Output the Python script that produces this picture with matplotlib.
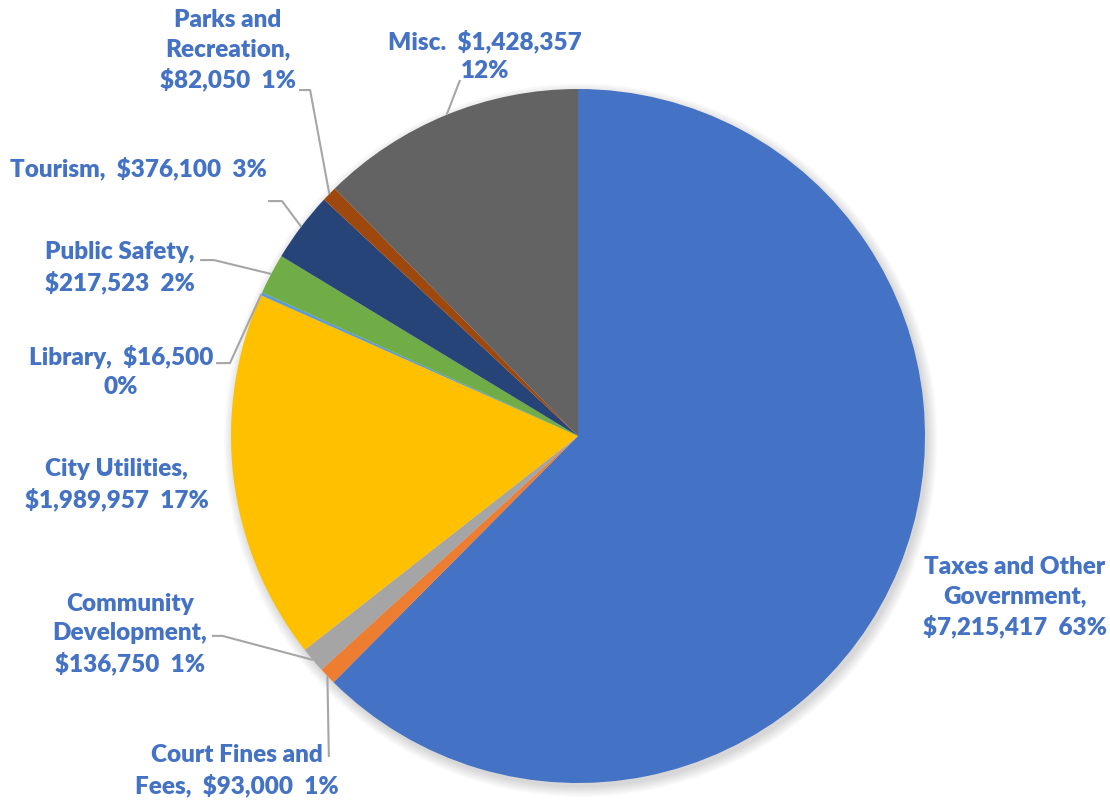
import numpy as np
import matplotlib.pyplot as plt
from matplotlib.patches import Circle

# Revenue by source, clockwise from 12 o'clock
sources = ['Taxes and Other\nGovernment,', 'Court Fines and\nFees,', 'Community\nDevelopment,',
           'City Utilities,', 'Library,', 'Public Safety,', 'Tourism,',
           'Parks and\nRecreation,', 'Misc.']
amounts = [7215417, 93000, 136750, 1989957, 16500, 217523, 376100, 82050, 1428357]
pct_text = ['63%', '1%', '1%', '17%', '0%', '2%', '3%', '1%', '12%']
colors = ['#4472C4', '#ED7D31', '#A5A5A5', '#FFC000', '#5B9BD5',
          '#70AD47', '#264478', '#9E480E', '#636363']

# how each label string is broken into lines
label_fmt = ['{n}\n${v}  {p}', '{n}  ${v}  {p}', '{n}\n${v}  {p}', '{n}\n${v}  {p}',
             '{n}  ${v}\n{p}', '{n}\n${v}  {p}', '{n}  ${v}  {p}', '{n}\n${v}  {p}',
             '{n}  ${v}\n{p}']
# label centres (pie radius = 1) and leader line starts (None = no leader)
label_xy = [(1.259, -0.464), (-0.983, -0.965), (-1.291, -0.571), (-1.329, -0.141),
            (-1.317, 0.187), (-1.320, 0.484), (-1.268, 0.772), (-1.009, 1.112),
            (-0.268, 1.095)]
leader_start = [None, (-0.718, -0.925), (-1.055, -0.576), None, (-1.043, 0.210),
                (-1.089, 0.507), (-0.893, 0.677), (-0.804, 0.997), (-0.340, 1.026)]
elbow_len = [0, 0, 0.03, 0, 0.04, 0.04, 0.04, 0.032, 0]

plt.rcParams['font.family'] = ['Lato', 'DejaVu Sans']

fig = plt.figure(figsize=(11.1, 8), dpi=100)
ax = fig.add_axes([0, 0, 1, 1])

# soft drop shadow under the pie
for i in range(8):
    ax.add_patch(Circle((0.008, -0.012), 1.0 + 0.004 * i, color='black',
                        alpha=0.018, lw=0, zorder=0))

wedges, _ = ax.pie(amounts, colors=colors, startangle=90, counterclock=False,
                   radius=1.0, center=(0, 0), frame=True,
                   wedgeprops=dict(linewidth=0, zorder=1))
ax.set_xlim(-578 / 347, 532 / 347)
ax.set_ylim(-364 / 347, 436 / 347)
ax.set_aspect('equal')
ax.axis('off')

for i, w in enumerate(wedges):
    mid = np.deg2rad((w.theta1 + w.theta2) / 2)
    tip = (np.cos(mid), np.sin(mid))
    txt = label_fmt[i].format(n=sources[i], v=f'{amounts[i]:,}', p=pct_text[i])
    ax.text(label_xy[i][0], label_xy[i][1], txt, ha='center', va='center',
            multialignment='center', fontsize=17.5, fontweight='heavy',
            color='#4472C4', linespacing=1.38, zorder=3)
    if leader_start[i] is not None:
        sx, sy = leader_start[i]
        ex = sx + elbow_len[i]
        ax.plot([sx, ex, tip[0]], [sy, sy, tip[1]], color='#A6A6A6', lw=1.5,
                solid_capstyle='butt', zorder=2)

fig.savefig('out.png', dpi=100, facecolor='white')
